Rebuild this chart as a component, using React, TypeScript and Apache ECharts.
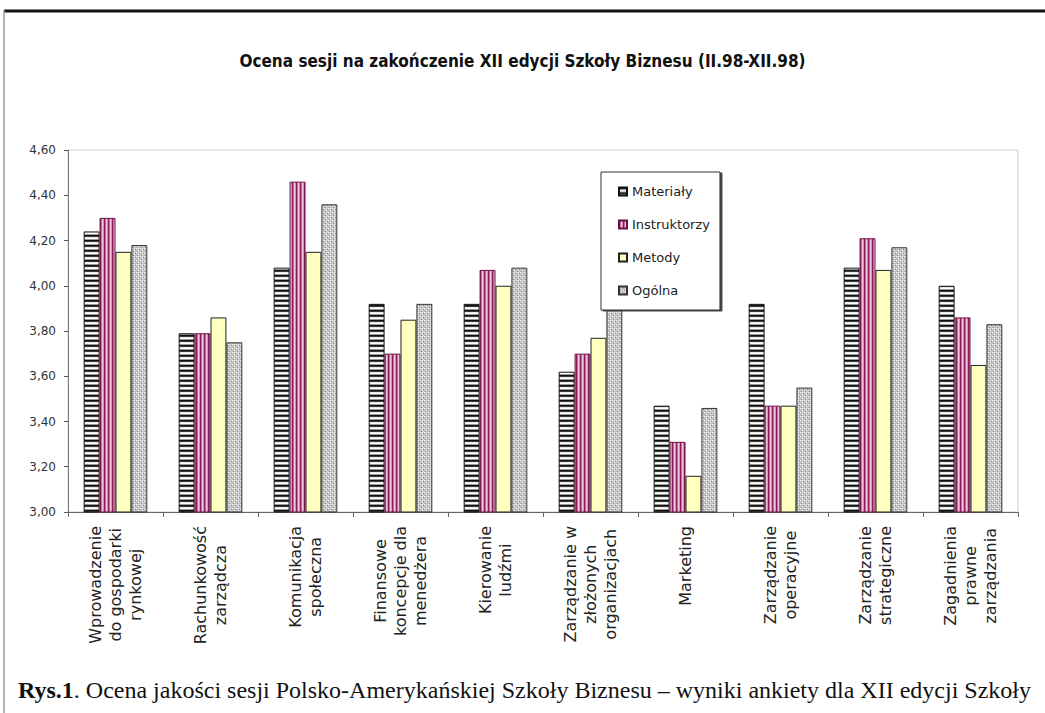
import React, { useEffect, useRef } from "react";
import * as echarts from "echarts";

const categories: string[][] = [
  ["Wprowadzenie", "do gospodarki", "rynkowej"],
  ["Rachunkowość", "zarządcza"],
  ["Komunikacja", "społeczna"],
  ["Finansowe", "koncepcje dla", "menedżera"],
  ["Kierowanie", "ludźmi"],
  ["Zarządzanie w", "złożonych", "organizacjach"],
  ["Marketing"],
  ["Zarządzanie", "operacyjne"],
  ["Zarządzanie", "strategiczne"],
  ["Zagadnienia", "prawne", "zarządzania"],
];

const seriesNames = ["Materiały", "Instruktorzy", "Metody", "Ogólna"];

const materialy = [4.24, 3.79, 4.08, 3.92, 3.92, 3.62, 3.47, 3.92, 4.08, 4.0];
const instruktorzy = [4.3, 3.79, 4.46, 3.7, 4.07, 3.7, 3.31, 3.47, 4.21, 3.86];
const metody = [4.15, 3.86, 4.15, 3.85, 4.0, 3.77, 3.16, 3.47, 4.07, 3.65];
const ogolna = [4.18, 3.75, 4.36, 3.92, 4.08, 3.9, 3.46, 3.55, 4.17, 3.83];

const title = "Ocena sesji na zakończenie XII edycji Szkoły Biznesu (II.98-XII.98)";
const captionBold = "Rys.1";
const captionRest =
  ". Ocena jakości sesji Polsko-Amerykańskiej Szkoły Biznesu – wyniki ankiety dla XII edycji Szkoły";

function makeCanvas(w: number, h: number, draw: (ctx: CanvasRenderingContext2D) => void) {
  const c = document.createElement("canvas");
  c.width = w;
  c.height = h;
  const ctx = c.getContext("2d")!;
  draw(ctx);
  return c;
}

function rows(colors: string[]) {
  return makeCanvas(4, colors.length, (ctx) => {
    colors.forEach((col, i) => {
      ctx.fillStyle = col;
      ctx.fillRect(0, i, 4, 1);
    });
  });
}

function cols(colors: string[]) {
  return makeCanvas(colors.length, 4, (ctx) => {
    colors.forEach((col, i) => {
      ctx.fillStyle = col;
      ctx.fillRect(i, 0, 1, 4);
    });
  });
}

export default function App() {
  const ref = useRef<HTMLDivElement>(null);

  useEffect(() => {
    document.body.style.margin = "0";
    const chart = echarts.init(ref.current!, null, { renderer: "svg" });

    const patMat = rows(["#111111", "#3a3a3a", "#e8e8e8", "#ffffff", "#9a9a9a"]);
    const patIns = cols(["#8a1c5a", "#c46a9c", "#f0c6de", "#d590b8"]);
    const patOg = makeCanvas(4, 4, (ctx) => {
      ctx.fillStyle = "#c4c4c4";
      ctx.fillRect(0, 0, 4, 4);
      ctx.fillStyle = "#f4f4f4";
      ctx.fillRect(0, 0, 1, 1);
      ctx.fillRect(2, 2, 1, 1);
      ctx.fillRect(2, 0, 1, 1);
      ctx.fillStyle = "#8c8c8c";
      ctx.fillRect(1, 3, 1, 1);
      ctx.fillRect(3, 1, 1, 1);
    });

    const fills: any[] = [
      { image: patMat, repeat: "repeat" },
      { image: patIns, repeat: "repeat" },
      "#ffffc0",
      { image: patOg, repeat: "repeat" },
    ];
    const borders = ["#111111", "#6a1045", "#222222", "#333333"];
    const data = [materialy, instruktorzy, metody, ogolna];

    const catLabels = categories.map((lines) => lines.map((l) => "{c|" + l + "}").join("\n"));

    const font = "DejaVu Sans, sans-serif";

    chart.setOption({
      animation: false,
      backgroundColor: "#ffffff",
      title: {
        text: title,
        left: "center",
        top: 47,
        textStyle: {
          fontFamily: "Liberation Sans Narrow, DejaVu Sans Condensed, Arial Narrow, sans-serif",
          fontWeight: "bold",
          fontSize: 17,
          color: "#111",
        },
      },
      legend: {
        orient: "vertical",
        left: 601,
        top: 172,
        width: 141,
        height: 138,
        padding: [12, 10, 12, 17],
        itemWidth: 8,
        itemHeight: 8,
        itemGap: 18,
        backgroundColor: "#ffffff",
        borderColor: "#333",
        borderWidth: 1,
        shadowColor: "#444",
        shadowOffsetX: 2,
        shadowOffsetY: 1,
        shadowBlur: 0,
        icon: "rect",
        textStyle: { fontFamily: font, fontSize: 13, color: "#222", lineHeight: 15 },
        data: seriesNames,
      },
      grid: {
        left: 68,
        right: 27,
        top: 150,
        bottom: 201,
        show: true,
        borderColor: "#cfcfcf",
        borderWidth: 1,
        backgroundColor: "transparent",
      },
      xAxis: {
        type: "category",
        data: catLabels,
        axisLine: { lineStyle: { color: "#666", width: 1 } },
        axisTick: { show: true, interval: 0, length: 5, lineStyle: { color: "#666" } },
        axisLabel: {
          interval: 0,
          rotate: 90,
          margin: 14,
          color: "#222",
          fontFamily: font,
          fontSize: 16,
          rich: {
            c: { align: "center", fontFamily: font, fontSize: 16, lineHeight: 20, color: "#222" },
          },
        },
      },
      yAxis: {
        type: "value",
        min: 3,
        max: 4.6,
        interval: 0.2,
        splitLine: { show: false },
        axisLine: { show: true, lineStyle: { color: "#777" } },
        axisTick: { show: true, length: 4, lineStyle: { color: "#555" } },
        axisLabel: {
          margin: 12,
          color: "#333",
          fontFamily: font,
          fontSize: 12,
          formatter: (v: number) => v.toFixed(2).replace(".", ","),
        },
      },
      series: seriesNames.map((name, i) => ({
        name,
        type: "bar",
        data: data[i],
        barGap: "0%",
        barCategoryGap: "33%",
        itemStyle: { color: fills[i], borderColor: borders[i], borderWidth: 1 },
        emphasis: { disabled: true },
      })),
      graphic: [
        {
          type: "line",
          shape: { x1: 4, y1: 11, x2: 1045, y2: 11 },
          style: { stroke: "#111", lineWidth: 3 },
          z: 100,
        },
        {
          type: "line",
          shape: { x1: 4, y1: 10, x2: 4, y2: 713 },
          style: { stroke: "#9a9a9a", lineWidth: 1.5 },
          z: 100,
        },
        {
          type: "rect",
          shape: { x: 5, y: 664, width: 1040, height: 49 },
          style: { fill: "#ffffff" },
          z: 100,
        },
        {
          type: "text",
          x: 18,
          y: 690,
          z: 101,
          style: {
            text: "{b|" + captionBold + "}{r|" + captionRest + "}",
            verticalAlign: "middle",
            rich: {
              b: { fontFamily: "Liberation Serif, serif", fontSize: 24, fontWeight: "bold", fill: "#111" },
              r: { fontFamily: "Liberation Serif, serif", fontSize: 24, fill: "#111" },
            },
          },
        },
      ],
    });

    return () => chart.dispose();
  }, []);

  return <div ref={ref} style={{ width: 1045, height: 713 }} />;
}
